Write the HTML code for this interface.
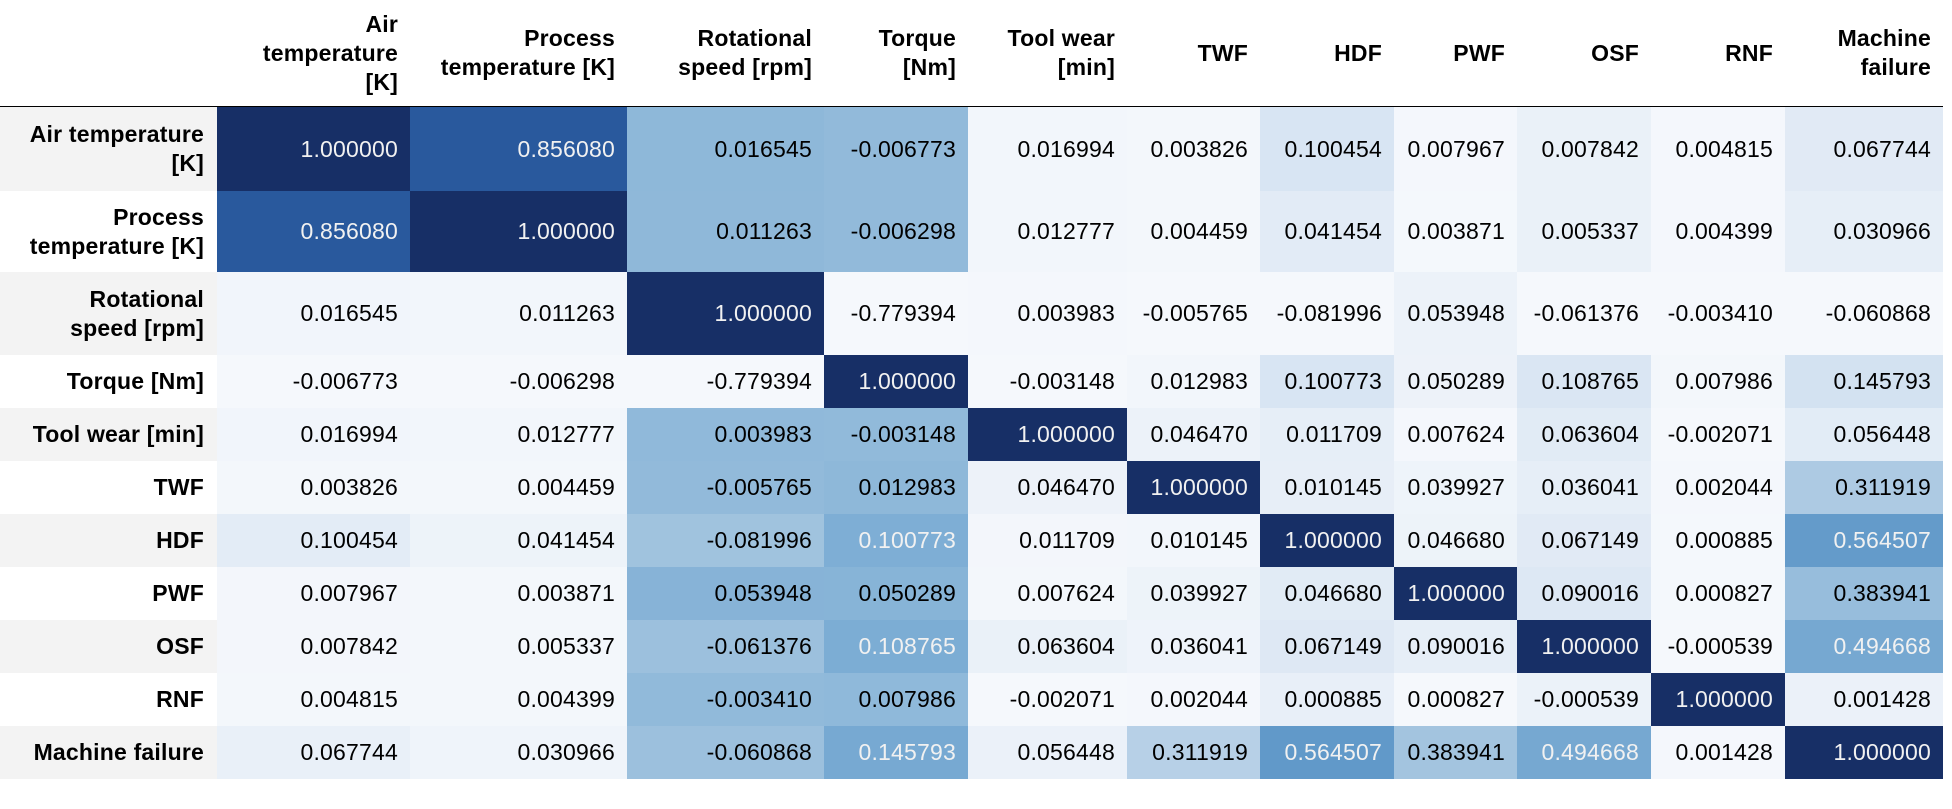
<!DOCTYPE html>
<html><head><meta charset="utf-8">
<style>
html,body{margin:0;padding:0;background:#fff;}
body{width:1952px;height:809px;position:relative;overflow:hidden;font-family:"Liberation Sans",Helvetica,Arial,sans-serif;}
.c{position:absolute;box-sizing:border-box;display:flex;align-items:center;justify-content:flex-end;text-align:right;font-size:23px;letter-spacing:0.2px;padding-right:12px;line-height:29px;}
.h{font-weight:bold;}
#rule{position:absolute;left:0;top:106px;width:1943px;height:3px;background:#000;}
</style></head>
<body>
<div id="rule"></div>
<script>
const colLabels = ["Air<br>temperature<br>[K]","Process<br>temperature [K]","Rotational<br>speed [rpm]","Torque<br>[Nm]","Tool wear<br>[min]","TWF","HDF","PWF","OSF","RNF","Machine<br>failure"];
const rowLabels = ["Air temperature<br>[K]","Process<br>temperature [K]","Rotational<br>speed [rpm]","Torque [Nm]","Tool wear [min]","TWF","HDF","PWF","OSF","RNF","Machine failure"];
const rowAirTemp = [1.000000,0.856080,0.016545,-0.006773,0.016994,0.003826,0.100454,0.007967,0.007842,0.004815,0.067744];
const rowProcTemp = [0.856080,1.000000,0.011263,-0.006298,0.012777,0.004459,0.041454,0.003871,0.005337,0.004399,0.030966];
const rowRotSpeed = [0.016545,0.011263,1.000000,-0.779394,0.003983,-0.005765,-0.081996,0.053948,-0.061376,-0.003410,-0.060868];
const rowTorque = [-0.006773,-0.006298,-0.779394,1.000000,-0.003148,0.012983,0.100773,0.050289,0.108765,0.007986,0.145793];
const rowToolWear = [0.016994,0.012777,0.003983,-0.003148,1.000000,0.046470,0.011709,0.007624,0.063604,-0.002071,0.056448];
const rowTWF = [0.003826,0.004459,-0.005765,0.012983,0.046470,1.000000,0.010145,0.039927,0.036041,0.002044,0.311919];
const rowHDF = [0.100454,0.041454,-0.081996,0.100773,0.011709,0.010145,1.000000,0.046680,0.067149,0.000885,0.564507];
const rowPWF = [0.007967,0.003871,0.053948,0.050289,0.007624,0.039927,0.046680,1.000000,0.090016,0.000827,0.383941];
const rowOSF = [0.007842,0.005337,-0.061376,0.108765,0.063604,0.036041,0.067149,0.090016,1.000000,-0.000539,0.494668];
const rowRNF = [0.004815,0.004399,-0.003410,0.007986,-0.002071,0.002044,0.000885,0.000827,-0.000539,1.000000,0.001428];
const rowMF = [0.067744,0.030966,-0.060868,0.145793,0.056448,0.311919,0.564507,0.383941,0.494668,0.001428,1.000000];
const matrix = [rowAirTemp,rowProcTemp,rowRotSpeed,rowTorque,rowToolWear,rowTWF,rowHDF,rowPWF,rowOSF,rowRNF,rowMF];

const colX = [217,410,627,824,968,1127,1260,1394,1517,1651,1785,1943];
const rowY = [107,191,272,355,408,461,514,567,620,673,726,779];
const stops = ["#f5f8fc","#e0eaf5","#c9dbee","#a6c6e0","#7cadd4","#5a94c6","#3770b0","#27559a","#172f66"];
function hex(h){return [1,3,5].map(i=>parseInt(h.substr(i,2),16));}
function cmap(t){
  t=Math.max(0,Math.min(1,t));const p=t*8;const i=Math.min(7,Math.floor(p));const f=p-i;
  const a=hex(stops[i]),b=hex(stops[i+1]);
  return "rgb("+a.map((v,k)=>Math.round(v+(b[k]-v)*f)).join(",")+")";
}
const n=colLabels.length;
function add(x,y,w,h,html,cls){
  const d=document.createElement('div');
  d.className='c '+cls;
  d.style.left=x+'px';d.style.top=y+'px';d.style.width=w+'px';d.style.height=h+'px';
  d.innerHTML=html;document.body.appendChild(d);return d;
}
for(let j=0;j<n;j++){
  const d=add(colX[j],0,colX[j+1]-colX[j],106,colLabels[j],'h');
  
  
}
const mins=[],maxs=[];
for(let j=0;j<n;j++){const col=matrix.map(r=>r[j]);mins.push(Math.min(...col));maxs.push(Math.max(...col));}
for(let i=0;i<n;i++){
  const y=rowY[i],h=rowY[i+1]-rowY[i];
  const rh=add(0,y,colX[0],h,rowLabels[i],'h');
  rh.style.paddingRight='13px';
  if(i%2===0) rh.style.background='#f3f3f3';
  
  
  for(let j=0;j<n;j++){
    const v=matrix[i][j];
    const t=(v-mins[j])/(maxs[j]-mins[j]);
    const c=add(colX[j],y,colX[j+1]-colX[j],h,v.toFixed(6),'');
    c.style.background=cmap(t);
    c.style.color=t>0.48?'#f1f1f1':'#000';
    
    
  }
}
</script>
</body></html>
